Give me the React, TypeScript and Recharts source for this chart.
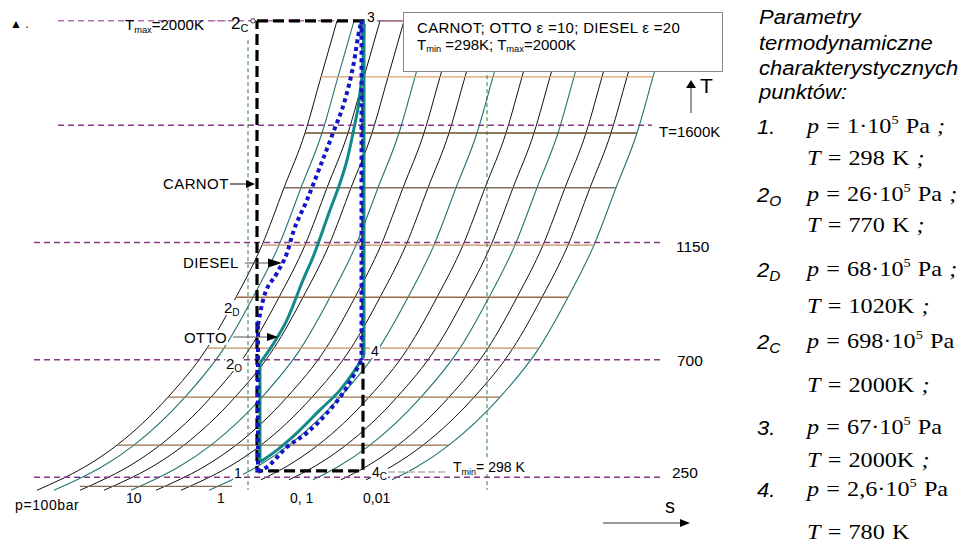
import React from 'react'
import { LineChart, Line, XAxis, YAxis, ReferenceDot } from 'recharts'

const W = 962
const H = 545

const levelT = [2000, 1785, 1570, 1360, 1140, 940, 745, 557, 373, 290, 240, 200]

// entropy position of each isobar at the levels above (left boundary p=100bar first)
const isobarS = [
  [3.37, 3.21, 3.05, 2.84, 2.62, 2.36, 2.07, 1.68, 1.17, 0.85, 0.6, 0.37],
  [3.54, 3.38, 3.22, 3.01, 2.79, 2.53, 2.24, 1.85, 1.34, 1.02, 0.77, 0.54],
  [3.8, 3.64, 3.48, 3.27, 3.05, 2.79, 2.5, 2.11, 1.6, 1.28, 1.03, 0.8],
  [4.04, 3.88, 3.72, 3.51, 3.29, 3.03, 2.74, 2.35, 1.84, 1.52, 1.27, 1.04],
  [4.31, 4.15, 3.99, 3.78, 3.56, 3.3, 3.01, 2.62, 2.11, 1.79, 1.54, 1.31],
  [4.56, 4.4, 4.24, 4.03, 3.81, 3.55, 3.26, 2.87, 2.36, 2.04, 1.79, 1.56],
  [4.81, 4.65, 4.49, 4.28, 4.06, 3.8, 3.51, 3.12, 2.61, 2.29, 2.04, 1.81],
  [5.09, 4.93, 4.77, 4.56, 4.34, 4.08, 3.79, 3.4, 2.89, 2.57, 2.32, 2.09],
  [5.38, 5.22, 5.06, 4.85, 4.63, 4.37, 4.08, 3.69, 3.18, 2.86, 2.61],
  [5.66, 5.5, 5.34, 5.13, 4.91, 4.65, 4.36, 3.97, 3.46, 3.14, 2.89],
  [5.9, 5.74, 5.58, 5.37, 5.15, 4.89, 4.6, 4.21, 3.7, 3.38, 3.13],
  [6.18, 6.02, 5.86, 5.65, 5.43, 5.17, 4.88, 4.49, 3.98, 3.66, 3.41],
  [6.43, 6.27, 6.11, 5.9, 5.68, 5.42, 5.13, 4.74, 4.23, 3.91, 3.66],
  [6.69, 6.53, 6.37, 6.16, 5.94, 5.68, 5.39, 5.0, 4.49, 4.17, 3.92],
]
const isobarTeal = [false, true, false, false, true, false, false, true, false, false, true, false, false, true]

// isotherms (brown)
const isoT = [2000, 1785, 1570, 1360, 1140, 940, 745, 557, 373, 215]
const isoFrom = [3.66, 3.21, 3.05, 2.84, 2.62, 2.36, 2.07, 1.68, 1.17, 0.8]
const isoTo = [6.69, 6.53, 6.37, 6.16, 5.94, 5.68, 5.39, 5.0, 4.49, 2.32]
const isoColors = ['#7a5230', '#d9a06a', '#6b4c2e', '#7f6e5e', '#c48d62', '#9c6a42', '#c08e5e', '#9a734f', '#93704e', '#8a6a4a']

// dashed temperature marks
const refT = [2000, 2000, 1600, 1150, 700, 250]
const refFrom = [0.58, 3.8, 0.58, 0.34, 0.34, 0.34]
const refTo = [3.37, 7.2, 6.52, 6.63, 6.63, 6.63]

// green guide lines
const guideS = [2.48, 4.87]
const guideT = [1926, 201]

// Tmin helper line near 4c
const tminS = [3.88, 4.47]
const tminT = 270

// cycles
const carnotS = [2.57, 3.63, 3.63, 2.57, 2.57]
const carnotT = [2000, 2000, 274, 274, 2000]

const ottoS = [2.6, 2.6, 2.74, 2.87, 3.03, 3.13, 3.3, 3.4, 3.47, 3.53, 3.6, 3.63, 3.64, 3.64, 3.6, 3.53, 3.4, 3.2, 2.97, 2.77, 2.6]
const ottoT = [308, 688, 765, 853, 1006, 1094, 1275, 1378, 1466, 1570, 1723, 1850, 2000, 719, 692, 650, 584, 508, 420, 354, 308]

const dieselS = [2.58, 2.58, 2.63, 2.77, 2.87, 2.93, 3.07, 3.2, 3.33, 3.45, 3.53, 3.6, 3.615, 3.615, 3.47, 3.27, 3.07, 2.87, 2.67, 2.58]
const dieselT = [270, 834, 929, 1033, 1110, 1187, 1313, 1440, 1570, 1697, 1823, 1977, 2000, 699, 596, 496, 420, 366, 289, 270]

// right panel: characteristic points
const ptName = ['1.', '2', '2', '2', '3.', '4.']
const ptSub = ['', 'O', 'D', 'C', '', '']
const ptP = ['1', '26', '68', '698', '67', '2,6']
const ptPEnd = [' ;', ' ;', ' ;', '', '', '']
const ptT = ['298 K', '770 K', '1020K', '2000K', '2000K', '780 K']
const ptTEnd = [' ;', ' ;', ' ;', ' ;', ' ;', '']
const pBase = [134, 202, 277, 349, 435, 497]
const tBase = [166, 233, 314, 393, 468, 540]

const pts = (s: number[], T: number[]) => s.map((v, i) => ({ s: v, T: T[i] }))
const seg = (s1: number, s2: number, T: number) => [{ s: s1, T }, { s: s2, T }]
// piece of a cycle between two corner indices, sorted by s for a smooth monotone curve
const piece = (s: number[], T: number[], a: number, b: number) =>
  pts(s, T).slice(a, b + 1).sort((p, q) => p.s - q.s)

const SANS = '"Liberation Sans", Arial, sans-serif'
const SERIF = '"Liberation Serif", "Times New Roman", serif'

function Txt({ x, b, size, children, style }: any) {
  return (
    <div
      style={{
        position: 'absolute',
        left: x,
        top: b - size * 0.85,
        fontSize: size,
        lineHeight: 1,
        whiteSpace: 'nowrap',
        fontFamily: SANS,
        color: '#000',
        transformOrigin: 'left center',
        ...style,
      }}
    >
      {children}
    </div>
  )
}

const Sub = ({ children, size = '0.62em' }: any) => (
  <span style={{ fontSize: size, position: 'relative', top: '0.28em' }}>{children}</span>
)

const WHITE = { background: '#fff', padding: '0 1px' }
const WIDE = { transform: 'scaleX(1.1)' }

export default function App() {
  const line = (key: string, data: any[], stroke: string, width: number, extra: any = {}) => (
    <Line
      key={key}
      data={data}
      dataKey="T"
      type="linear"
      stroke={stroke}
      strokeWidth={width}
      dot={false}
      activeDot={false}
      isAnimationActive={false}
      {...extra}
    />
  )

  return (
    <div style={{ position: 'absolute', left: 0, top: 0, width: W, height: H, background: '#fff', overflow: 'hidden' }}>
      <LineChart width={W} height={H} margin={{ top: 0, right: 0, bottom: 0, left: 0 }}>
        <XAxis type="number" dataKey="s" domain={[0, 9.62]} hide allowDataOverflow />
        <YAxis type="number" dataKey="T" domain={[-10, 2080]} hide allowDataOverflow />

        {isobarS.map((row, k) =>
          line(
            'p' + k,
            row.map((s, i) => ({ s, T: levelT[i] })).reverse(),
            isobarTeal[k] ? '#237373' : '#111',
            isobarTeal[k] ? 1.1 : 1,
            { type: 'monotone' },
          ),
        )}

        {isoT.map((T, i) => line('t' + i, seg(isoFrom[i], isoTo[i], T), isoColors[i], i === 2 ? 1.7 : 1.3))}

        {line('tmin', seg(tminS[0], tminS[1], tminT), '#c4c4c4', 2, { strokeDasharray: '7 3' })}
        {line('lead', seg(2.1, 2.27, 2000), '#777', 1, { strokeDasharray: '2 1.5' })}

        {refT.map((T, i) =>
          line('r' + i, seg(refFrom[i], refTo[i], T), i < 2 ? '#b46eb4' : '#853885', 1.5, { strokeDasharray: '6 4' }),
        )}

        {guideS.map((s, i) =>
          line('g' + i, [{ s, T: guideT[0] }, { s, T: guideT[1] }], '#2e7d32', 1, { strokeDasharray: '4 3' }),
        )}

        {line('carnot', pts(carnotS, carnotT), '#000', 3.2, { strokeDasharray: '11 5' })}

        {line('o1', pts(ottoS, ottoT).slice(0, 2), '#13898a', 3)}
        {line('o2', piece(ottoS, ottoT, 1, 12), '#13898a', 3, { type: 'monotone' })}
        {line('o3', pts(ottoS, ottoT).slice(12, 14), '#13898a', 3)}
        {line('o4', piece(ottoS, ottoT, 13, 20), '#13898a', 3, { type: 'monotone' })}

        {line('d1', pts(dieselS, dieselT).slice(0, 2), '#1414c8', 4, { strokeDasharray: '4 3.5' })}
        {line('d2', piece(dieselS, dieselT, 1, 12), '#1414c8', 4, { strokeDasharray: '4 3.5', type: 'monotone' })}
        {line('d3', pts(dieselS, dieselT).slice(12, 14), '#1414c8', 4, { strokeDasharray: '4 3.5' })}
        {line('d4', piece(dieselS, dieselT, 13, 19), '#1414c8', 4, { strokeDasharray: '4 3.5', type: 'monotone' })}

        <ReferenceDot x={2.53} y={2000} r={2.2} fill="#fff" stroke="#000" strokeWidth={0.8} />
      </LineChart>

      <svg width={W} height={H} style={{ position: 'absolute', left: 0, top: 0, pointerEvents: 'none' }}>
        <line x1={230} y1={184} x2={247} y2={184} stroke="#000" strokeWidth={1} />
        <polygon points="246,180 255,184 246,188" fill="#000" />
        <line x1={245} y1={263} x2={270} y2={263} stroke="#555" strokeWidth={1} />
        <polygon points="268,258.5 282,263 268,267.5" fill="#000" />
        <line x1={233} y1={337} x2={268} y2={337} stroke="#555" strokeWidth={1} />
        <polygon points="267,333 278,337 267,341" fill="#000" />
        <line x1={603} y1={523} x2={681} y2={523} stroke="#333" strokeWidth={1.2} />
        <polygon points="680,519 690,523 680,527" fill="#000" />
        <line x1={691} y1={113} x2={691} y2={87} stroke="#555" strokeWidth={1.2} />
        <polygon points="686,88 691,80 696,88" fill="#000" />
      </svg>

      {/* legend box */}
      <div style={{ position: 'absolute', left: 403, top: 12, width: 320, height: 60, border: '1px solid #888', background: '#fff', boxSizing: 'border-box' }} />
      <Txt x={417} b={32.5} size={15} style={{ letterSpacing: 0.3 }}>CARNOT; OTTO ε =10; DIESEL ε =20</Txt>
      <Txt x={417} b={49.5} size={15}>
        T<Sub>min</Sub> =298K; T<Sub>max</Sub>=2000K
      </Txt>

      {/* chart annotations */}
      <Txt x={10} b={28} size={12}>▲ .</Txt>
      <Txt x={125} b={30} size={15}>
        T<Sub>max</Sub>=2000K
      </Txt>
      <Txt x={231} b={29} size={17}>
        2<Sub size={11}>C</Sub>
      </Txt>
      <Txt x={365} b={22} size={14} style={{ ...WHITE, padding: '0 2px' }}>3</Txt>
      <Txt x={163} b={189} size={15} style={{ letterSpacing: 0.4 }}>CARNOT</Txt>
      <Txt x={182} b={268} size={15} style={{ ...WHITE, letterSpacing: 0.4 }}>DIESEL</Txt>
      <Txt x={223} b={313} size={15} style={WHITE}>
        2<Sub size={10}>D</Sub>
      </Txt>
      <Txt x={183} b={343} size={15} style={{ ...WHITE, letterSpacing: 0.4 }}>OTTO</Txt>
      <Txt x={225} b={369} size={15} style={WHITE}>
        2<Sub size={10}>O</Sub>
      </Txt>
      <Txt x={233} b={478} size={14} style={WHITE}>1</Txt>
      <Txt x={370} b={356} size={14} style={WHITE}>4</Txt>
      <Txt x={371} b={477} size={14} style={WHITE}>
        4<Sub size={10}>C</Sub>
      </Txt>
      <Txt x={450} b={472} size={14} style={{ ...WHITE, padding: '0 3px' }}>
        T<Sub size={9}>min</Sub>= 298 K
      </Txt>
      <Txt x={15} b={510} size={14} style={{ letterSpacing: 0.6 }}>p=100bar</Txt>
      <Txt x={126} b={503} size={14}>10</Txt>
      <Txt x={217} b={503} size={14}>1</Txt>
      <Txt x={290} b={503} size={14}>0, 1</Txt>
      <Txt x={363} b={503} size={14}>0,01</Txt>
      <Txt x={665} b={513} size={20}>s</Txt>
      <Txt x={700} b={93} size={21}>T</Txt>
      <Txt x={659} b={137} size={15}>T=1600K</Txt>
      <Txt x={676} b={252} size={15.5}>1150</Txt>
      <Txt x={677} b={366} size={15.5}>700</Txt>
      <Txt x={672} b={478} size={15.5}>250</Txt>

      {/* right panel */}
      <Txt x={759} b={24} size={20} style={{ fontStyle: 'italic', ...WIDE }}>Parametry</Txt>
      <Txt x={759} b={50} size={20} style={{ fontStyle: 'italic', ...WIDE }}>termodynamiczne</Txt>
      <Txt x={759} b={75} size={20} style={{ fontStyle: 'italic', ...WIDE }}>charakterystycznych</Txt>
      <Txt x={759} b={99} size={20} style={{ fontStyle: 'italic', ...WIDE }}>punktów:</Txt>
      {ptName.map((n, i) => (
        <React.Fragment key={'pt' + i}>
          <Txt x={757} b={pBase[i]} size={20} style={{ fontStyle: 'italic', ...WIDE }}>
            {n}
            {ptSub[i] && <Sub size={14}>{ptSub[i]}</Sub>}
          </Txt>
          <Txt x={807} b={pBase[i]} size={22} style={{ fontFamily: SERIF, wordSpacing: 1, ...WIDE }}>
            <i>p</i> = {ptP[i]}·10
            <span style={{ fontSize: 13, position: 'relative', top: -9 }}>5</span> Pa
            <i>{ptPEnd[i]}</i>
          </Txt>
          <Txt x={807} b={tBase[i]} size={22} style={{ fontFamily: SERIF, wordSpacing: 1, ...WIDE }}>
            <i>T</i> = {ptT[i]}
            <i>{ptTEnd[i]}</i>
          </Txt>
        </React.Fragment>
      ))}
    </div>
  )
}
